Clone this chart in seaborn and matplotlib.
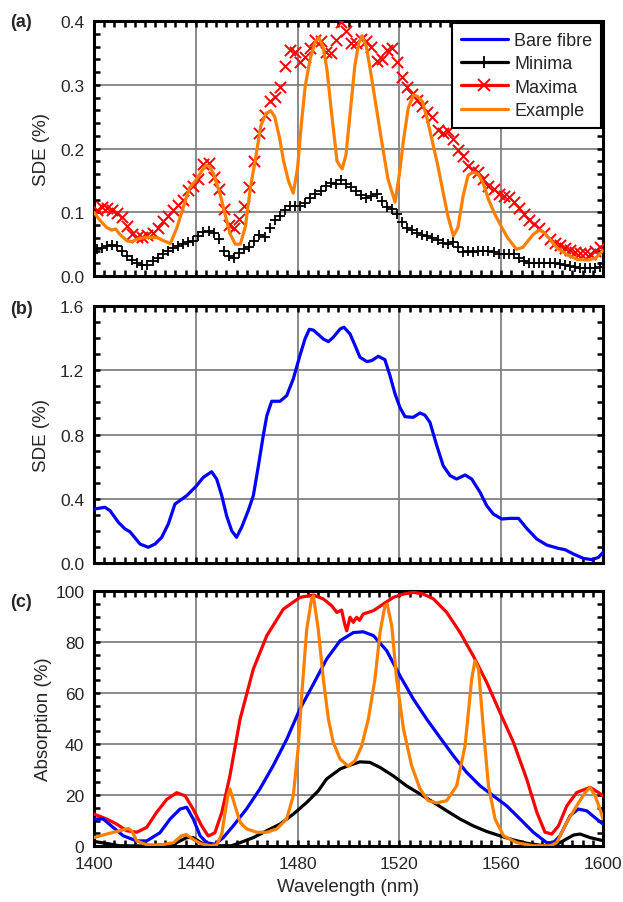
import numpy as np
import pandas as pd
import matplotlib
matplotlib.use("Agg")
import matplotlib.pyplot as plt
from matplotlib.lines import Line2D
from matplotlib.ticker import MultipleLocator
import seaborn as sns

# ---------------- (a) SDE of minima / maxima and an example device ----------------
ext_wl = [1401 + 2 * i for i in range(100)]
maxima_sde = [0.104, 0.108, 0.107, 0.104, 0.099, 0.092, 0.078, 0.066, 0.062, 0.062,
              0.064, 0.068, 0.076, 0.086, 0.094, 0.104, 0.112, 0.120, 0.135, 0.142,
              0.152, 0.176, 0.178, 0.155, 0.136, 0.105, 0.080, 0.076, 0.090, 0.110,
              0.140, 0.180, 0.225, 0.252, 0.274, 0.281, 0.296, 0.330, 0.355, 0.351,
              0.335, 0.343, 0.358, 0.370, 0.368, 0.352, 0.350, 0.370, 0.398, 0.385,
              0.366, 0.366, 0.372, 0.368, 0.360, 0.338, 0.340, 0.355, 0.358, 0.335,
              0.312, 0.297, 0.285, 0.276, 0.267, 0.258, 0.249, 0.229, 0.224, 0.227,
              0.215, 0.198, 0.188, 0.172, 0.167, 0.163, 0.153, 0.142, 0.136, 0.129,
              0.126, 0.124, 0.116, 0.106, 0.097, 0.088, 0.082, 0.076, 0.067, 0.058,
              0.052, 0.049, 0.044, 0.041, 0.038, 0.036, 0.036, 0.035, 0.039, 0.046]
minima_sde = [0.042, 0.044, 0.047, 0.048, 0.047, 0.040, 0.031, 0.025, 0.020, 0.017,
              0.018, 0.023, 0.028, 0.035, 0.040, 0.044, 0.047, 0.050, 0.053, 0.055,
              0.063, 0.069, 0.070, 0.067, 0.058, 0.040, 0.032, 0.028, 0.036, 0.042,
              0.046, 0.055, 0.064, 0.062, 0.075, 0.088, 0.094, 0.104, 0.110, 0.110,
              0.110, 0.115, 0.122, 0.129, 0.133, 0.142, 0.146, 0.145, 0.150, 0.145,
              0.139, 0.133, 0.127, 0.123, 0.126, 0.129, 0.118, 0.108, 0.105, 0.098,
              0.084, 0.076, 0.072, 0.068, 0.064, 0.063, 0.060, 0.056, 0.052, 0.050,
              0.054, 0.045, 0.037, 0.040, 0.038, 0.039, 0.040, 0.040, 0.037, 0.035,
              0.035, 0.035, 0.035, 0.028, 0.023, 0.021, 0.021, 0.021, 0.021, 0.021,
              0.020, 0.019, 0.017, 0.015, 0.014, 0.012, 0.012, 0.012, 0.012, 0.014]

example_wl = [1400, 1402, 1405, 1407, 1408.5, 1410, 1413, 1415, 1417, 1421, 1425, 1427,
              1430, 1432.5, 1435, 1437.5, 1440, 1442, 1444, 1445.5, 1447, 1449.5, 1451.5,
              1453.5, 1455.5, 1457.5, 1459.5, 1461.5, 1463.5, 1465.5, 1467.5, 1469.5,
              1471, 1473, 1474.5, 1476.5, 1478.3, 1480, 1481.5, 1483, 1485, 1487, 1488.3,
              1490, 1491.5, 1493.5, 1495.5, 1497.5, 1499, 1500.5, 1502.5, 1504, 1505.3,
              1507, 1508.5, 1510.5, 1513, 1515.5, 1518.3, 1520, 1521.5, 1523.5, 1525.5,
              1527, 1529, 1531, 1533, 1535, 1537, 1539, 1541.2, 1543, 1545, 1547, 1549,
              1551, 1553, 1555, 1557.5, 1560, 1562.5, 1566, 1568.5, 1570.5, 1572.5, 1575,
              1577, 1579, 1582, 1586, 1590, 1594, 1597, 1600]
example_sde = [0.100, 0.089, 0.076, 0.072, 0.074, 0.066, 0.055, 0.054, 0.058, 0.061, 0.060,
               0.056, 0.051, 0.075, 0.107, 0.138, 0.150, 0.163, 0.174, 0.172, 0.160, 0.129,
               0.097, 0.066, 0.050, 0.050, 0.078, 0.140, 0.185, 0.235, 0.255, 0.259, 0.250,
               0.215, 0.180, 0.148, 0.130, 0.170, 0.240, 0.298, 0.342, 0.368, 0.374, 0.360,
               0.325, 0.250, 0.180, 0.168, 0.190, 0.250, 0.330, 0.365, 0.377, 0.360, 0.325,
               0.275, 0.212, 0.152, 0.116, 0.160, 0.210, 0.264, 0.284, 0.282, 0.274, 0.245,
               0.210, 0.175, 0.135, 0.095, 0.063, 0.076, 0.125, 0.158, 0.163, 0.160, 0.145,
               0.120, 0.097, 0.078, 0.060, 0.042, 0.045, 0.055, 0.065, 0.072, 0.068, 0.058,
               0.044, 0.033, 0.026, 0.025, 0.028, 0.040]

# ---------------- (b) SDE of the bare fibre ----------------
bare_wl = [1400, 1404.3, 1406.3, 1409.6, 1412.2, 1414.1, 1418.1, 1421.3, 1424, 1426.6,
           1429.2, 1431.8, 1436.4, 1440.3, 1442.9, 1446.2, 1448.2, 1450.2, 1452.1, 1454.1,
           1456, 1458, 1460.6, 1462.6, 1464.6, 1466.5, 1467.9, 1469.8, 1473.1, 1475.7,
           1478.3, 1480.9, 1482.9, 1484.6, 1486.2, 1490.1, 1492.1, 1494, 1496.7, 1498.2,
           1500.6, 1502.6, 1504.5, 1507.2, 1509.1, 1511.7, 1514.3, 1516.3, 1518.3, 1520.2,
           1522.2, 1525.4, 1528.1, 1530, 1532, 1534.7, 1537.2, 1539.9, 1542.5, 1545.8,
           1548.4, 1551.7, 1554.3, 1556.9, 1560.2, 1563.5, 1566.8, 1570, 1574, 1577.9,
           1582.5, 1585.1, 1588.4, 1592.3, 1595.6, 1598.2, 1600]
bare_sde = [0.336, 0.347, 0.326, 0.253, 0.212, 0.195, 0.118, 0.098, 0.118, 0.160,
            0.243, 0.367, 0.419, 0.481, 0.533, 0.568, 0.523, 0.419, 0.294, 0.201,
            0.160, 0.222, 0.326, 0.419, 0.606, 0.793, 0.917, 1.007, 1.007, 1.042,
            1.146, 1.291, 1.395, 1.455, 1.450, 1.395, 1.378, 1.405, 1.457, 1.468,
            1.426, 1.353, 1.281, 1.254, 1.260, 1.287, 1.266, 1.166, 1.052, 0.969,
            0.911, 0.907, 0.934, 0.921, 0.876, 0.730, 0.606, 0.544, 0.523, 0.548,
            0.523, 0.440, 0.357, 0.305, 0.274, 0.278, 0.278, 0.216, 0.149, 0.112,
            0.091, 0.083, 0.056, 0.029, 0.021, 0.035, 0.066]

# ---------------- (c) absorption ----------------
abs_max_wl = [1400, 1405, 1408.9, 1412.8, 1416.8, 1420.7, 1424.6, 1428.6, 1432.5, 1435.8,
              1439, 1442.3, 1444.9, 1447.5, 1450.2, 1453.4, 1457.4, 1462.6, 1467.9, 1474.4,
              1480.9, 1486.2, 1490.1, 1493.4, 1495.4, 1497.3, 1498.5, 1499.3, 1500.6,
              1501.9, 1503.2, 1504.3, 1505.8, 1509.8, 1513.7, 1517.6, 1521.6, 1525.5,
              1529.4, 1533.4, 1538.6, 1543.8, 1549, 1554.3, 1559.5, 1564.8, 1570, 1574,
              1577.2, 1579.9, 1582.5, 1585.8, 1589.7, 1594.9, 1598.2, 1600]
abs_max = [12.5, 10.6, 8.6, 6.0, 5.4, 7.3, 13.2, 18.3, 20.9, 19.7,
           14.4, 7.9, 3.9, 5.2, 13.1, 27.5, 49.8, 69.4, 82.5, 92.9,
           97.5, 98.4, 96.9, 94.2, 91.6, 92.5, 87.0, 84.4, 89.7,
           87.7, 89.7, 88.5, 91.0, 92.3, 94.9, 97.5, 98.8, 99.5,
           98.8, 96.9, 91.6, 83.8, 74.6, 64.2, 52.4, 40.7, 26.3, 13.2,
           5.4, 4.7, 7.9, 15.8, 21.0, 23.0, 21.0, 19.7]

abs_bare_wl = [1400, 1403.6, 1407.5, 1411.5, 1416.8, 1420.7, 1425.9, 1429.9, 1433.8, 1436.4,
               1439, 1441.7, 1444.3, 1447.5, 1450.8, 1454.7, 1459.9, 1465.2, 1470.4, 1475.7,
               1480.9, 1486.2, 1491.4, 1496.7, 1501.9, 1505.8, 1509.8, 1515, 1520.2, 1525.5,
               1530.7, 1535.9, 1541.2, 1546.4, 1551.7, 1556.9, 1562.1, 1567.4, 1572.6, 1577.9,
               1580.5, 1583.1, 1587.1, 1590.3, 1593.6, 1597.5, 1600]
abs_bare = [10.6, 10.6, 7.3, 4.0, 2.0, 2.0, 5.2, 10.6, 14.5, 15.2,
            10.6, 4.0, 1.3, 0.7, 3.3, 7.9, 14.5, 22.4, 31.5, 41.8,
            53.7, 63.5, 73.3, 80.5, 83.7, 84.0, 82.5, 76.6, 66.8, 57.6,
            49.8, 42.6, 35.4, 28.9, 23.6, 19.7, 15.8, 10.6, 5.4, 1.3,
            1.3, 4.0, 11.9, 14.5, 13.8, 10.6, 8.6]

abs_min_wl = [1400, 1405, 1410, 1420, 1431.2, 1436.4, 1439, 1441.7, 1445, 1454,
              1457.4, 1462.6, 1467.9, 1473.1, 1478.3, 1483.6, 1488.1, 1491.4, 1496.7,
              1499.9, 1504.5, 1508.4, 1512.4, 1517.6, 1522.8, 1528.1, 1533.4, 1538.6,
              1543.8, 1549, 1554.3, 1559.5, 1564.8, 1570, 1575.3, 1580.5, 1584.5, 1588.4,
              1591, 1594.9, 1600]
abs_min = [1.8, 1.0, 0.1, 0.0, 0.7, 3.3, 3.3, 1.5, 0.1, 0.1,
           1.3, 3.3, 6.0, 8.6, 12.5, 17.1, 21.6, 26.3, 30.2,
           31.5, 33.0, 32.8, 30.8, 27.5, 23.6, 20.4, 17.1, 13.8,
           10.6, 7.9, 5.7, 4.0, 2.4, 1.1, 0.3, 0.0, 2.1, 4.3,
           4.7, 3.3, 2.1]

abs_ex_wl = [1400, 1405, 1410.2, 1413.5, 1414.8, 1416.8, 1420.7, 1426, 1431.2, 1434.4,
             1436.2, 1439, 1441.7, 1445.7, 1448.2, 1450.2, 1451.5, 1452.8, 1453.4, 1455.4,
             1457.4, 1460, 1463.9, 1467.9, 1471.8, 1475.7, 1478.3, 1480.3, 1481.6, 1483.6,
             1485.5, 1486.2, 1488.1, 1490.1, 1492.1, 1494, 1496.7, 1499.9, 1502.6, 1505.2,
             1507.8, 1510.4, 1512.4, 1514.3, 1515.2, 1517, 1518.9, 1521.6, 1524.8, 1528.1,
             1531.3, 1534.7, 1538.6, 1542.5, 1545.8, 1548.4, 1549.7, 1551.1, 1553, 1555,
             1557.6, 1560.9, 1566.1, 1572.6, 1579.2, 1581.8, 1585.8, 1589.7, 1593, 1594.9,
             1596.9, 1598.8, 1600]
abs_ex = [3.3, 4.7, 6.0, 6.9, 6.0, 2.0, 0.5, 0.4, 1.3, 4.0,
          4.5, 2.6, 1.0, 0.1, 0.5, 4.7, 13.1, 21.0, 22.4, 15.8,
          9.3, 6.7, 5.4, 5.4, 6.7, 10.6, 19.7, 39.2, 58.9, 85.1,
          96.9, 98.1, 85.1, 65.5, 49.8, 40.7, 34.1, 31.3, 33.5, 39.3,
          49.8, 65.5, 83.8, 94.2, 94.9, 86.4, 65.5, 45.9, 31.5, 22.4,
          17.8, 16.9, 17.8, 23.6, 39.3, 65.5, 72.7, 69.4, 45.9, 23.6,
          10.6, 4.0, 1.3, 0.1, 0.1, 1.3, 9.3, 15.8, 21.0, 23.0,
          19.7, 14.5, 10.6]

x_ticks = [1400, 1440, 1480, 1520, 1560, 1600]
C_BLUE, C_BLACK, C_RED, C_ORANGE = "#0000FF", "#000000", "#FF0000", "#FF8000"

sns.set_style("white")
plt.rcParams["font.family"] = ["Liberation Sans", "DejaVu Sans"]

TICK_FS = 12.5
LABEL_FS = 13.5

fig = plt.figure(figsize=(6.23, 9.03), dpi=100)
ax_a = fig.add_axes([0.1509, 0.6932, 0.8170, 0.2824])
ax_b = fig.add_axes([0.1509, 0.3754, 0.8170, 0.2846])
ax_c = fig.add_axes([0.1509, 0.0620, 0.8170, 0.2824])

LW = 2.3

# (a)
sns.scatterplot(x=ext_wl, y=minima_sde, marker="+", s=60, color=C_BLACK,
                linewidth=1.3, ax=ax_a, zorder=3)
sns.scatterplot(x=ext_wl, y=maxima_sde, marker="x", s=65, color=C_RED,
                linewidth=1.4, ax=ax_a, zorder=3)
sns.lineplot(x=example_wl, y=example_sde, color=C_ORANGE, lw=LW, ax=ax_a, zorder=4)

# (b)
sns.lineplot(x=bare_wl, y=bare_sde, color=C_BLUE, lw=LW, ax=ax_b, zorder=4)

# (c)
sns.lineplot(x=abs_min_wl, y=abs_min, color=C_BLACK, lw=LW, ax=ax_c, zorder=3)
sns.lineplot(x=abs_max_wl, y=abs_max, color=C_RED, lw=LW, ax=ax_c, zorder=3)
sns.lineplot(x=abs_bare_wl, y=abs_bare, color=C_BLUE, lw=LW, ax=ax_c, zorder=4)
sns.lineplot(x=abs_ex_wl, y=abs_ex, color=C_ORANGE, lw=LW, ax=ax_c, zorder=5)

settings = [
    (ax_a, (0, 0.4), 0.1, 0.02, "{:.1f}", "SDE (%)", -0.0865),
    (ax_b, (0, 1.6), 0.4, 0.1, "{:.1f}", "SDE (%)", -0.0865),
    (ax_c, (0, 100), 20, 5, "{:.0f}", "Absorption (%)", -0.0825),
]
for ax, ylim, ymaj, ymin, fmt, ylab, lab_x in settings:
    ax.set_xlim(1400, 1600)
    ax.set_ylim(*ylim)
    ax.set_xticks(x_ticks)
    ax.xaxis.set_minor_locator(MultipleLocator(4))
    ax.yaxis.set_major_locator(MultipleLocator(ymaj))
    ax.yaxis.set_minor_locator(MultipleLocator(ymin))
    ax.yaxis.set_major_formatter(plt.FuncFormatter(lambda v, p, f=fmt: f.format(v)))
    ax.grid(True, which="major", color="#808080", lw=1.3)
    ax.set_axisbelow(True)
    ax.tick_params(which="both", direction="in", top=True, right=True,
                   left=True, bottom=True, length=4, width=1.8, color="black",
                   labelsize=TICK_FS, pad=7)
    for sp in ax.spines.values():
        sp.set_color("black")
        sp.set_linewidth(2.2)
    ax.set_ylabel(ylab, fontsize=LABEL_FS)
    ax.yaxis.set_label_coords(lab_x, 0.5)
    ax.set_xlabel("")

ax_a.tick_params(axis="x", labelbottom=False)
ax_b.tick_params(axis="x", labelbottom=False)
ax_c.set_xlabel("Wavelength (nm)", fontsize=LABEL_FS, labelpad=5)

handles = [
    Line2D([], [], color=C_BLUE, lw=2.3),
    Line2D([], [], color=C_BLACK, lw=2.3, marker="+", markersize=8, mew=1.3),
    Line2D([], [], color=C_RED, lw=2.3, marker="x", markersize=8, mew=1.4),
    Line2D([], [], color=C_ORANGE, lw=2.3),
]
leg = ax_a.legend(handles, ["Bare fibre", "Minima", "Maxima", "Example"],
                  loc="upper right", fontsize=13, frameon=True, fancybox=False,
                  edgecolor="black", framealpha=1, handlelength=2.6,
                  borderaxespad=0.1, borderpad=0.5, labelspacing=0.35,
                  handletextpad=0.35)
leg.get_frame().set_linewidth(1.5)

for label, ypx in (("(a)", 14), ("(b)", 301), ("(c)", 594)):
    fig.text(10 / 623, 1 - ypx / 903, label, fontsize=13, fontweight="bold",
             va="top", ha="left")

fig.savefig("out.png", dpi=100, facecolor="white")
